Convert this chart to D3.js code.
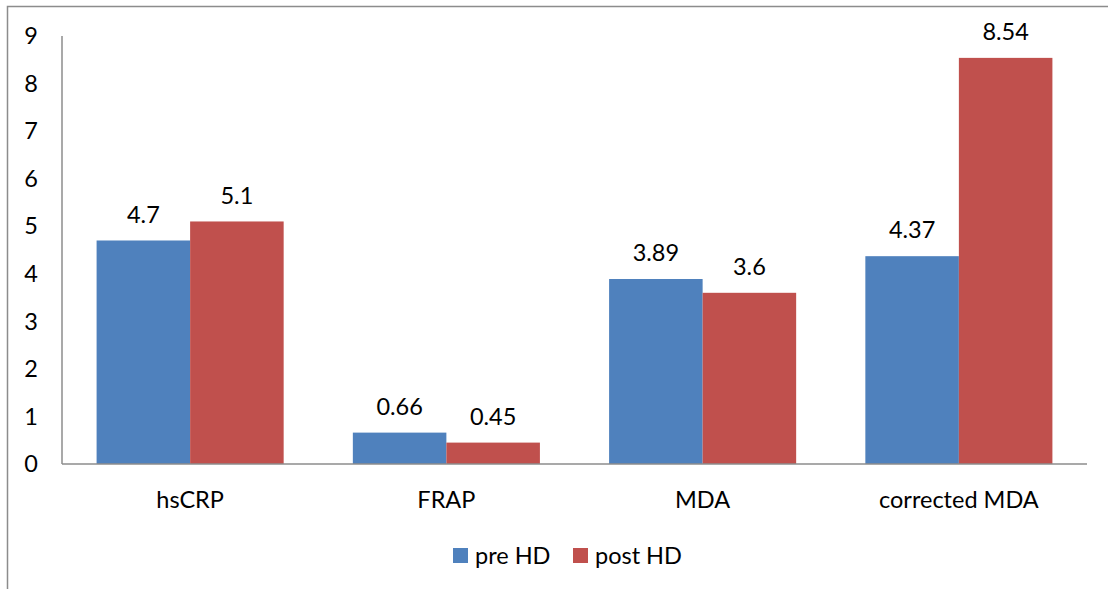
<!DOCTYPE html>
<html><head><meta charset="utf-8">
<script src="https://cdn.jsdelivr.net/npm/d3@7"></script>
<style>body{margin:0;background:#fff;} text{font-family:Lato,"Open Sans",sans-serif;fill:#000;}</style>
</head><body>
<svg id="c" width="1108" height="589"></svg>
<script>
const categories = ["hsCRP","FRAP","MDA","corrected MDA"];
const seriesNames = ["pre HD","post HD"];
const preHD = [4.7,0.66,3.89,4.37];
const postHD = [5.1,0.45,3.6,8.54];
const preLabels = ["4.7","0.66","3.89","4.37"];
const postLabels = ["5.1","0.45","3.6","8.54"];
const yTicks = [0,1,2,3,4,5,6,7,8,9];
const colors = ["#4F81BD","#C0504D"];

(function(){
const FS = 23.5;
const svg = d3.select("#c");
svg.append("rect").attr("x",7.5).attr("y",6.5).attr("width",1200).attr("height",700)
  .attr("fill","none").attr("stroke","#8c8c8c").attr("stroke-width",1.5);

const pL=62, pR=1087, pT=36, pB=464;
const x = d3.scaleBand().domain(categories).range([pL,pR]).paddingInner(0.27).paddingOuter(0.135);
const xs = d3.scaleBand().domain(seriesNames).range([0,x.bandwidth()]);
const y = d3.scaleLinear().domain([0,9]).range([pB,pT]);

const data = categories.map((c,i)=>({c, vals:[{s:seriesNames[0],v:preHD[i],l:preLabels[i]},{s:seriesNames[1],v:postHD[i],l:postLabels[i]}]}));

const groups = svg.append("g").selectAll("g.cat").data(data).join("g").attr("transform",d=>`translate(${x(d.c)},0)`);
groups.selectAll("rect").data(d=>d.vals).join("rect")
  .attr("x",d=>xs(d.s)).attr("width",xs.bandwidth())
  .attr("y",d=>y(d.v)).attr("height",d=>y(0)-y(d.v))
  .attr("fill",(d,i)=>colors[i]);
groups.selectAll("text").data(d=>d.vals).join("text")
  .attr("x",d=>xs(d.s)+xs.bandwidth()/2).attr("y",d=>y(d.v)-26).attr("dy","0.35em")
  .attr("text-anchor","middle").attr("font-size",FS).text(d=>d.l);

svg.append("line").attr("x1",pL).attr("x2",pL).attr("y1",pT).attr("y2",pB).attr("stroke","#8c8c8c").attr("stroke-width",1.5);
svg.append("line").attr("x1",pL).attr("x2",pR).attr("y1",pB).attr("y2",pB).attr("stroke","#8c8c8c").attr("stroke-width",1.5);

svg.selectAll("text.yt").data(yTicks).join("text").attr("class","yt")
  .attr("x",31).attr("y",d=>y(d)).attr("dy","0.35em").attr("text-anchor","middle")
  .attr("font-size",FS).text(d=>d);

svg.selectAll("text.xt").data(categories).join("text").attr("class","xt")
  .attr("x",d=>x(d)+x.bandwidth()/2).attr("y",500).attr("dy","0.35em").attr("text-anchor","middle")
  .attr("font-size",FS).text(d=>d);

const legX = [453,573];
seriesNames.forEach((s,i)=>{
  svg.append("rect").attr("x",legX[i]).attr("y",548).attr("width",15).attr("height",15).attr("fill",colors[i]);
  svg.append("text").attr("x",legX[i]+22).attr("y",555.5).attr("dy","0.35em").attr("font-size",FS).text(s);
});
})();
</script>
</body></html>
